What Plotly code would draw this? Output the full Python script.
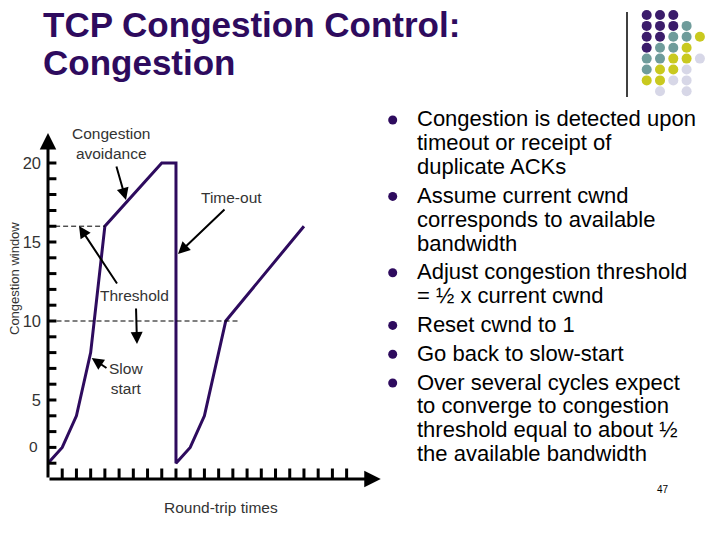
import plotly.graph_objects as go

W, H = 720, 540

# ---------------- data ----------------
rtt = [0, 1, 2, 3, 4, 8, 9, 9, 10, 11, 12.5, 18]          # round-trip times
cwnd = [1, 2, 4, 8, 16, 20, 20, 1, 2, 4, 10, 16]          # congestion window
threshold_levels = [16, 10]
threshold_from = [0.5, 0.6]
threshold_to = [4, 13.5]
y_tick_marks = list(range(1, 21))
x_tick_marks = list(range(1, 22))
y_tick_labels = [5, 10, 15, 20]

title_lines = ["TCP Congestion Control:", "Congestion"]
bullets = [
    ["Congestion is detected upon", "timeout or receipt of", "duplicate ACKs"],
    ["Assume current cwnd", "corresponds to available", "bandwidth"],
    ["Adjust congestion threshold", "= ½ x current cwnd"],
    ["Reset cwnd to 1"],
    ["Go back to slow-start"],
    ["Over several cycles expect", "to converge to congestion",
     "threshold equal to about ½", "the available bandwidth"],
]
decor_rows = ["PPP  ", "PPPT ", "PPTTY", "PTTY ", "TTYYL", "TYYL ", "YYLL ", " L L "]
decor_colors = {"P": "#3b1c6b", "T": "#6f9c9b", "Y": "#c9c91f", "L": "#d7d7e7"}

PURPLE = "#2e0b5e"
LABEL = "#333333"
FONT = "Arial, Liberation Sans, sans-serif"

# pixel geometry of the main chart
X0_PX, X_PER = 48.0, 14.22
Y0_PX, Y_PER = 479.0, 15.8
x_range = [0, 23.6]
y_range = [0, 22.3]


def px(x):
    return x / W


def py(y):
    return 1 - y / H


fig = go.Figure()

# congestion window curve
fig.add_trace(go.Scatter(x=rtt, y=cwnd, mode="lines",
                         line=dict(color=PURPLE, width=3),
                         hoverinfo="skip", showlegend=False))
# threshold dashed lines
for lvl, a, b in zip(threshold_levels, threshold_from, threshold_to):
    fig.add_trace(go.Scatter(x=[a, b], y=[lvl, lvl], mode="lines",
                             line=dict(color="black", width=1, dash="5px,3px"),
                             hoverinfo="skip", showlegend=False))
# tick marks
fig.add_trace(go.Scatter(x=[0] * len(y_tick_marks), y=y_tick_marks, mode="markers",
                         marker=dict(symbol="line-ew", size=12,
                                     line=dict(color="black", width=3)),
                         hoverinfo="skip", showlegend=False))
fig.add_trace(go.Scatter(x=x_tick_marks, y=[0] * len(x_tick_marks), mode="markers",
                         marker=dict(symbol="line-ns", size=15,
                                     line=dict(color="black", width=3)),
                         hoverinfo="skip", showlegend=False))

# decoration overlay in pixel space
dx, dy, cx0, cy0 = [], [], 646.7, 15.0
dcol = []
for r, row in enumerate(decor_rows):
    for c, ch in enumerate(row):
        if ch.strip():
            dx.append(cx0 + 13.3 * c)
            dy.append(cy0 + 10.9 * r)
            dcol.append(decor_colors[ch])
fig.add_trace(go.Scatter(x=dx, y=dy, mode="markers", xaxis="x2", yaxis="y2",
                         marker=dict(size=10, color=dcol, line=dict(width=0)),
                         hoverinfo="skip", showlegend=False))

# bullet text lines
ann = []
bx, by = [], []
y = 119.0
for bi, lines in enumerate(bullets):
    if bi > 0:
        y += 28.8
    bx.append(392.7)
    by.append(y + 1)
    for li, line in enumerate(lines):
        if li > 0:
            y += 23.8
        ann.append(dict(x=px(415), y=py(y), xref="paper", yref="paper",
                        text=line, showarrow=False, xanchor="left", yanchor="middle",
                        font=dict(family=FONT, size=22, color="black")))
fig.add_trace(go.Scatter(x=bx, y=by, mode="markers", xaxis="x2", yaxis="y2",
                         marker=dict(size=9, color=PURPLE),
                         hoverinfo="skip", showlegend=False))

# title
for i, t in enumerate(title_lines):
    ann.append(dict(x=px(41), y=py(25 + 37 * i), xref="paper", yref="paper",
                    text="<b>%s</b>" % t, showarrow=False, xanchor="left",
                    yanchor="middle",
                    font=dict(family=FONT, size=35, color=PURPLE)))

# axes arrows
ann.append(dict(x=0, y=21.9, ax=0, ay=0, xref="x", yref="y", axref="x", ayref="y",
                text="", showarrow=True, arrowhead=2, arrowsize=1.1, arrowwidth=3,
                arrowcolor="black", standoff=0, startstandoff=0))
ann.append(dict(x=23.4, y=0, ax=0, ay=0, xref="x", yref="y", axref="x", ayref="y",
                text="", showarrow=True, arrowhead=2, arrowsize=1.1, arrowwidth=3,
                arrowcolor="black", standoff=0, startstandoff=0))

# label texts
labels = [
    ("Congestion<br>avoidance", 111, 144),
    ("Time-out", 231, 197),
    ("Threshold", 134, 295),
    ("Slow<br>start", 126, 378),
    ("Round-trip times", 221, 507),
    ("0", 33, 447),
]
for t, xx, yy in labels:
    ann.append(dict(x=px(xx), y=py(yy), xref="paper", yref="paper", text=t,
                    showarrow=False, xanchor="center", yanchor="middle",
                    font=dict(family=FONT, size=15.5, color=LABEL)))
ann.append(dict(x=px(14), y=py(279), xref="paper", yref="paper",
                text="Congestion window", showarrow=False, textangle=-90,
                xanchor="center", yanchor="middle",
                font=dict(family=FONT, size=13, color=LABEL)))
ann.append(dict(x=px(671), y=py(497), xref="paper", yref="paper", text="47",
                showarrow=False, font=dict(family=FONT, size=10, color="black")))

# pointer arrows: (tail px, tip px)
pointers = [
    ((116, 165), (126, 200)),
    ((226, 208), (178, 254)),
    ((118, 285), (79, 226)),
    ((136, 307), (137, 344)),
    ((108, 369), (91.7, 358)),
]
for (tx, ty), (hx, hy) in pointers:
    ann.append(dict(x=(hx - X0_PX) / X_PER, y=(Y0_PX - hy) / Y_PER, xref="x", yref="y",
                    ax=tx - hx, ay=ty - hy, text="", showarrow=True,
                    arrowhead=2, arrowsize=1.2, arrowwidth=2, arrowcolor="black",
                    standoff=0, startstandoff=0))

x_dom = [X0_PX / W, (X0_PX + x_range[1] * X_PER) / W]
y_dom = [(H - Y0_PX) / H, (H - (Y0_PX - y_range[1] * Y_PER)) / H]

fig.update_layout(
    width=W, height=H,
    margin=dict(l=0, r=0, t=0, b=0),
    paper_bgcolor="white", plot_bgcolor="rgba(0,0,0,0)",
    showlegend=False,
    xaxis=dict(domain=x_dom, range=x_range, showgrid=False, zeroline=False,
               showticklabels=False, ticks="", showline=False, fixedrange=True),
    yaxis=dict(domain=y_dom, range=y_range, showgrid=False, zeroline=False,
               tickvals=y_tick_labels, ticktext=[str(v) for v in y_tick_labels],
               ticks="", showline=False, ticklabelstandoff=6,
               tickfont=dict(family=FONT, size=16.5, color=LABEL), fixedrange=True),
    xaxis2=dict(domain=[0, 1], range=[0, W], visible=False, anchor="y2", fixedrange=True),
    yaxis2=dict(domain=[0, 1], range=[H, 0], visible=False, anchor="x2", fixedrange=True),
    annotations=ann,
    shapes=[dict(type="line", xref="paper", yref="paper", x0=px(627), x1=px(627),
                 y0=py(12), y1=py(97), line=dict(color="black", width=1.5))],
)

fig.write_html("out.html", config={"displayModeBar": False},
               post_script="document.body.style.margin='0px';"
                           "document.body.style.overflow='hidden';")
